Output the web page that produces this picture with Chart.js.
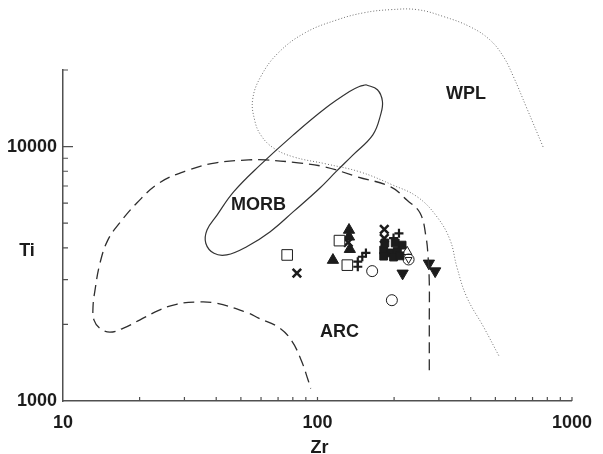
<!DOCTYPE html>
<html>
<head>
<meta charset="utf-8">
<title>Ti–Zr discrimination diagram</title>
<script src="https://cdn.jsdelivr.net/npm/chart.js@4/dist/chart.umd.min.js"></script>
<style>
  html, body { margin: 0; padding: 0; background: #fff; }
  #wrap { width: 603px; height: 454px; }
</style>
</head>
<body>
<div id="wrap"><canvas id="c" width="603" height="454"></canvas></div>
<script>
// ---- axis ticks ----
const xTickLabels = [10, 100, 1000];
const yTickLabels = [1000, 10000];
const xTickMarks = [20, 30, 40, 50, 60, 70, 80, 90, 100, 200, 300, 400, 500, 600, 700, 800, 900, 1000];
const yTickMarks = [2000, 3000, 4000, 5000, 6000, 7000, 8000, 9000, 10000, 20000];

// ---- field boundaries [Zr, Ti] ----
const arcBoundary = [
  [275, 1320], [275, 2135], [275, 2910], [272, 3680], [267, 4410], [253, 5480],
  [225, 6150], [194, 6940], [144, 7600], [107, 8320], [84, 8630], [62.5, 8860],
  [53.6, 8860], [39.9, 8630], [31.3, 8100], [23.9, 7200], [19.5, 6000], [16.7, 5010],
  [15.0, 4290], [13.97, 3480], [13.36, 2730], [13.12, 2340], [13.24, 2080], [13.97, 1930],
  [15.3, 1865], [17.2, 1930], [20.0, 2080], [23.9, 2276], [27.9, 2400], [33.4, 2450],
  [39.9, 2425], [53.6, 2214], [58.7, 2116], [70.2, 1951], [78.9, 1734], [86.3, 1446],
  [91.9, 1206], [94, 1120]
];
const morbField = [
  [155, 17500], [172, 16720], [180, 15040], [177, 13330], [165, 11120], [138, 9280],
  [118, 7950], [102, 6860], [80.4, 5550], [65.2, 4630], [52.7, 4040], [44.0, 3750],
  [39.2, 3805], [36.4, 4170], [36.8, 4700], [40.3, 5380], [46.9, 6650], [59.6, 8470],
  [80.4, 11120], [108, 14210], [133.6, 16460], [146, 17230], [155, 17500]
];
const wplBoundary = [
  [770, 9970], [661, 14330], [589, 18810], [538, 22550], [475, 26310], [397, 29600],
  [314, 32400], [247, 34530], [194, 34530], [153, 33610], [120, 31540], [89.5, 28030],
  [70.2, 23380], [59.8, 18810], [55.6, 15280], [56.6, 12740], [59.8, 11120], [67.1, 9880],
  [80.4, 9110], [108, 8550], [147, 7950], [197, 7070], [247, 6340], [295, 5290],
  [332, 4290], [353, 3360], [386, 2560], [450, 1950], [519, 1490]
];

// ---- samples [Zr, Ti] ----
const openSquares = [[76, 3750], [122, 4270], [131, 3420]];
const crosses = [[83, 3180], [183, 4730], [183, 4360], [132, 4200]];
const filledTriangles = [[115, 3580], [133, 4700], [133, 4420], [134, 3950]];
const plusSigns = [[144, 3530], [150, 3690], [144, 3370], [155, 3820], [209, 4560], [199, 4370]];
const filledSquares = [[182, 3920], [194, 3820], [206, 3880], [215, 4100], [184, 4180],
  [202, 4180], [182, 3710], [199, 3680], [211, 3720]];
const openCircles = [[164, 3240], [196, 2490], [228, 3600]];
const openTriangles = [[225, 3860]];
const openInvTriangles = [[228, 3600]];
const invTriangles = [[216, 3175], [274, 3475], [290, 3240]];

// ---- field names ----
const fieldLabels = [
  { text: 'MORB', zr: 58.6, ti: 5880 },
  { text: 'WPL', zr: 383, ti: 16130 },
  { text: 'ARC', zr: 122, ti: 1865 }
];

const INK = '#1c1c1c';
const AXIS = '#505050';
const FONT = 'bold 18px "Liberation Sans", Arial, Helvetica, sans-serif';

const pts = arr => arr.map(([x, y]) => ({ x, y }));

function markerSet(arr, style, radius, opts) {
  return Object.assign({
    data: pts(arr),
    showLine: false,
    pointStyle: style,
    pointRadius: radius,
    pointHoverRadius: radius,
    borderColor: INK,
    backgroundColor: INK,
    borderWidth: 1
  }, opts || {});
}

const annotate = {
  id: 'annotate',
  afterDraw(chart) {
    const { ctx, chartArea: a, scales: { x, y } } = chart;
    ctx.save();
    // inward tick marks
    ctx.strokeStyle = AXIS;
    ctx.lineWidth = 1.2;
    ctx.beginPath();
    xTickMarks.forEach(v => {
      const px = x.getPixelForValue(v);
      ctx.moveTo(px, a.bottom);
      ctx.lineTo(px, a.bottom - 4);
    });
    yTickMarks.forEach(v => {
      const py = y.getPixelForValue(v);
      const len = v === 10000 ? 10 : 5;
      ctx.moveTo(a.left, py);
      ctx.lineTo(a.left + len, py);
    });
    ctx.stroke();

    // field names
    ctx.fillStyle = INK;
    ctx.font = FONT;
    ctx.textAlign = 'center';
    ctx.textBaseline = 'middle';
    fieldLabels.forEach(l => {
      ctx.fillText(l.text, x.getPixelForValue(l.zr), y.getPixelForValue(l.ti));
    });

    // axis names
    ctx.fillText('Zr', (a.left + a.right) / 2 + 2, a.bottom + 47);
    ctx.fillText('Ti', a.left - 36, y.getPixelForValue(3900));
    ctx.restore();
  }
};

new Chart(document.getElementById('c'), {
  type: 'scatter',
  data: {
    datasets: [
      {
        data: pts(arcBoundary), showLine: true, pointRadius: 0, pointHoverRadius: 0,
        borderColor: '#2e2e2e', borderWidth: 1.3, borderDash: [11, 6], tension: 0.4, fill: false
      },
      {
        data: pts(morbField), showLine: true, pointRadius: 0, pointHoverRadius: 0,
        borderColor: '#333', borderWidth: 1.2, tension: 0.4, fill: false
      },
      {
        data: pts(wplBoundary), showLine: true, pointRadius: 0, pointHoverRadius: 0,
        borderColor: '#6e6e6e', borderWidth: 1, borderDash: [1, 2], tension: 0.4,
        fill: false, clip: false
      },
      markerSet(openSquares, 'rect', 7.5, { backgroundColor: '#fff', borderWidth: 1 }),
      markerSet(crosses, 'crossRot', 6, { borderWidth: 2.6 }),
      markerSet(filledTriangles, 'triangle', 6.5),
      markerSet(plusSigns, 'cross', 4.5, { borderWidth: 2.2 }),
      markerSet(filledSquares, 'rect', 5.5),
      markerSet(openCircles, 'circle', 5.5, { backgroundColor: 'rgba(255,255,255,0)', borderWidth: 1 }),
      markerSet(openTriangles, 'triangle', 5.5, { backgroundColor: 'rgba(255,255,255,0)', borderWidth: 1 }),
      markerSet(openInvTriangles, 'triangle', 4, { backgroundColor: 'rgba(255,255,255,0)', borderWidth: 1, rotation: 180 }),
      markerSet(invTriangles, 'triangle', 6.5, { rotation: 180 })
    ]
  },
  options: {
    responsive: false,
    animation: false,
    devicePixelRatio: 1,
    layout: { padding: { top: 70, right: 27, left: 0, bottom: 0 } },
    elements: { line: { capBezierPoints: false } },
    plugins: { legend: { display: false }, tooltip: { enabled: false } },
    scales: {
      x: {
        type: 'logarithmic',
        min: 10, max: 1000,
        grid: { display: false, drawTicks: false },
        border: { display: true, color: AXIS, width: 1.5 },
        afterBuildTicks: s => { s.ticks = xTickLabels.map(v => ({ value: v })); },
        afterFit: s => { s.height = 53; },
        ticks: {
          autoSkip: false, maxRotation: 0, padding: 11, color: INK,
          font: { family: '"Liberation Sans", Arial, sans-serif', size: 18, weight: 'bold' },
          callback: v => String(v)
        }
      },
      y: {
        type: 'logarithmic',
        min: 1000, max: 20000,
        grid: { display: false, drawTicks: false },
        border: { display: true, color: AXIS, width: 1.5 },
        afterBuildTicks: s => { s.ticks = yTickLabels.map(v => ({ value: v })); },
        afterFit: s => { s.width = 63; },
        ticks: {
          autoSkip: false, padding: 6, color: INK,
          font: { family: '"Liberation Sans", Arial, sans-serif', size: 18, weight: 'bold' },
          callback: v => String(v)
        }
      }
    }
  },
  plugins: [annotate]
});
</script>
</body>
</html>
